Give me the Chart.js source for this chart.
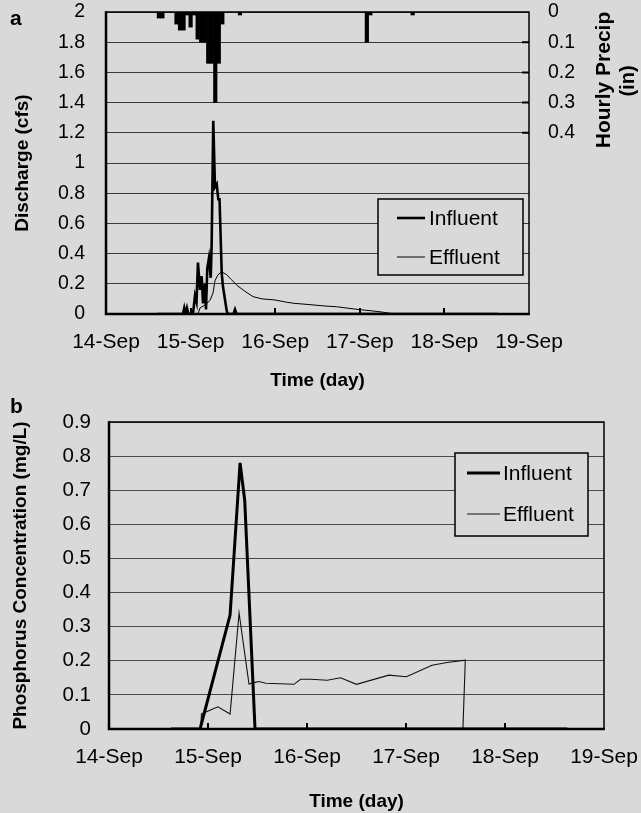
<!DOCTYPE html>
<html>
<head>
<meta charset="utf-8">
<title>Discharge and phosphorus, 14-19 Sep</title>
<script src="https://cdn.jsdelivr.net/npm/chart.js@4/dist/chart.umd.min.js"></script>
<style>
  html, body { margin: 0; padding: 0; background: #d9d9d9; }
  #wrap { position: relative; width: 641px; height: 813px; overflow: hidden; background: #d9d9d9; }
  canvas { position: absolute; left: 0; }
  #chartA { top: 0; }
  #chartB { top: 380px; }
</style>
</head>
<body>
<div id="wrap">
  <canvas id="chartA" width="641" height="410"></canvas>
  <canvas id="chartB" width="641" height="440"></canvas>
</div>
<script>
// ---- data (time in days after 14-Sep 00:00) ----
const dayLabels = ['14-Sep', '15-Sep', '16-Sep', '17-Sep', '18-Sep', '19-Sep'];

// panel a: discharge (cfs)
const inflowDays = [0.603, 0.910, 0.925, 0.940, 0.957, 0.975, 1.028, 1.052, 1.070, 1.087, 1.111, 1.131, 1.147, 1.170, 1.182, 1.197, 1.217, 1.238, 1.249, 1.268, 1.288, 1.309, 1.327, 1.342, 1.368, 1.383, 1.427, 1.442, 1.507, 1.525, 1.543, 4.634];
const inflowCfs  = [0,     0,     0.04,  0,     0.04,  0,     0,     0.12,  0.08,  0.34,  0.16,  0.25,  0.07,  0.20,  0.03,  0.30,  0.37,  0.24,  0.47,  1.28,  0.84,  0.86,  0.76,  0.76,  0.27,  0.18,  0.02,  0,     0,     0.03,  0,     0];

const outflowDays = [0.603, 1.087, 1.111, 1.170, 1.229, 1.265, 1.288, 1.324, 1.368, 1.427, 1.478, 1.548, 1.643, 1.738, 1.844, 1.998, 2.136, 2.234, 2.329, 2.589, 2.727, 2.979, 3.121, 3.262, 3.404, 4.634];
const outflowCfs  = [0,     0,     0.04,  0.06,  0.09,  0.14,  0.22,  0.26,  0.28,  0.26,  0.23,  0.19,  0.15,  0.115, 0.10,  0.093, 0.078, 0.07,  0.066, 0.053, 0.048, 0.03,  0.022, 0.013, 0,     0];

// hourly precipitation (in), hour counted from 14-Sep 00:00
const precipHours = [15,   16,   20,   21,   22,   23,   24,   25,   26,   27,   28,   29,   30,   31,   32,   33,   38,   74,   75,   87];
const precipIn    = [0.02, 0.02, 0.04, 0.06, 0.06, 0.01, 0.05, 0.01, 0.09, 0.10, 0.10, 0.17, 0.17, 0.30, 0.17, 0.04, 0.01, 0.10, 0.01, 0.01];

// panel b: phosphorus concentration (mg/L)
const phosInDays = [0.625, 0.920, 1.223, 1.324, 1.371, 1.475, 4.630];
const phosInMgL  = [0,     0,     0.334, 0.78,  0.67,  0,     0];

const phosOutDays = [0.625, 0.927, 0.934, 1.100, 1.223, 1.314, 1.414, 1.465, 1.515, 1.583, 1.868, 1.935, 2.040, 2.205, 2.339, 2.500, 2.826, 3.004, 3.263, 3.414, 3.599, 3.575, 4.630];
const phosOutMgL  = [0,     0,     0.044, 0.065, 0.044, 0.34,  0.132, 0.136, 0.139, 0.134, 0.131, 0.146, 0.146, 0.143, 0.150, 0.131, 0.158, 0.153, 0.187, 0.195, 0.202, 0,     0];

// ---- helpers ----
const pairs = (xs, ys) => xs.map((x, i) => ({ x: x, y: ys[i] }));
const fmt = v => String(Number(v.toFixed(2)));
const BG = '#d9d9d9';
const FAMILY = "'Liberation Sans', Arial, Helvetica, sans-serif";
const CLEAR = 'rgba(0,0,0,0)';

Chart.defaults.font.family = FAMILY;
Chart.defaults.color = '#000';
Chart.defaults.animation = false;

// frame, inner tick marks, boxed legend and free text for each panel
const panelDecor = {
  id: 'panelDecor',
  afterDraw(chart, args, o) {
    const ctx = chart.ctx;
    const a = chart.chartArea;
    const xs = chart.scales.x;
    ctx.save();
    ctx.strokeStyle = '#000';
    ctx.lineCap = 'butt';

    // plot frame
    ctx.lineWidth = 1.5;
    ctx.strokeRect(a.left, a.top, a.right - a.left, a.bottom - a.top);
    ctx.lineWidth = 2.5;
    ctx.beginPath();
    ctx.moveTo(a.left, a.top - 0.75);
    ctx.lineTo(a.left, a.bottom);
    ctx.lineTo(a.right + 0.75, a.bottom);
    ctx.stroke();

    // day ticks pointing into the plot
    ctx.lineWidth = 2;
    ctx.beginPath();
    for (let v = xs.min + 1; v < xs.max; v++) {
      const px = Math.round(xs.getPixelForValue(v));
      ctx.moveTo(px, a.bottom);
      ctx.lineTo(px, a.bottom - 6);
    }
    // right-hand precipitation ticks
    const y2 = chart.scales.y2;
    if (y2) {
      y2.ticks.forEach(t => {
        if (t.value > 0 && t.value <= 0.4001) {
          const py = y2.getPixelForValue(t.value);
          ctx.moveTo(a.right, py);
          ctx.lineTo(a.right - 7, py);
        }
      });
    }
    ctx.stroke();

    // boxed legend
    const L = o.legend;
    if (L) {
      ctx.fillStyle = BG;
      ctx.fillRect(L.x, L.y, L.w, L.h);
      ctx.lineWidth = 1.5;
      ctx.strokeStyle = '#000';
      ctx.strokeRect(L.x, L.y, L.w, L.h);
      const lines = chart.data.datasets.filter(d => d.type === 'line');
      ctx.font = L.font;
      ctx.fillStyle = '#000';
      ctx.textAlign = 'left';
      ctx.textBaseline = 'middle';
      lines.forEach((d, i) => {
        const ry = L.rows[i];
        ctx.lineWidth = d.borderWidth;
        ctx.strokeStyle = d.borderColor;
        ctx.beginPath();
        ctx.moveTo(L.lineX1, ry);
        ctx.lineTo(L.lineX2, ry);
        ctx.stroke();
        ctx.fillText(d.label, L.textX, ry + 1);
      });
    }

    // free text (panel letter, secondary axis title)
    (o.texts || []).forEach(t => {
      ctx.save();
      ctx.font = t.font;
      ctx.fillStyle = '#000';
      ctx.textAlign = t.align || 'center';
      ctx.textBaseline = t.baseline || 'middle';
      ctx.translate(t.x, t.y);
      if (t.rot) ctx.rotate(t.rot);
      ctx.fillText(t.text, 0, 0);
      ctx.restore();
    });
    ctx.restore();
  }
};

const TITLE_FONT = { size: 19, weight: 'bold' };
const GRID_A = '#3a3a3a';
const GRID_B = '#4a4a4a';

// shared time axis; the invisible tick length sets the label drop below the axis
function timeAxis(height, drop, titlePadBottom) {
  return {
    type: 'linear',
    min: 0,
    max: dayLabels.length - 1,
    offset: false,
    grid: { display: false, drawTicks: true, tickLength: drop },
    border: { display: false },
    ticks: {
      stepSize: 1,
      autoSkip: false,
      maxRotation: 0,
      padding: 0,
      font: { size: 21 },
      callback: v => dayLabels[Math.round(v)]
    },
    title: {
      display: true,
      text: 'Time (day)',
      font: TITLE_FONT,
      padding: { top: 0, bottom: titlePadBottom }
    },
    afterFit: s => { s.height = height; }
  };
}

// ---- panel a ----
new Chart(document.getElementById('chartA'), {
  type: 'bar',
  data: {
    datasets: [
      { type: 'line', label: 'Influent', data: pairs(inflowDays, inflowCfs), yAxisID: 'y',
        borderColor: '#000', borderWidth: 2.6, pointRadius: 0, tension: 0, order: 1 },
      { type: 'line', label: 'Effluent', data: pairs(outflowDays, outflowCfs), yAxisID: 'y',
        borderColor: '#000', borderWidth: 1, pointRadius: 0, tension: 0, order: 2 },
      { type: 'bar', label: 'Hourly Precip', data: pairs(precipHours.map(h => h / 24), precipIn), yAxisID: 'y2',
        backgroundColor: '#000', borderWidth: 0, barPercentage: 1, categoryPercentage: 1, order: 3 }
    ]
  },
  options: {
    responsive: false,
    devicePixelRatio: 1,
    layout: { padding: { top: 12, left: 0, right: 0, bottom: 0 } },
    plugins: {
      legend: { display: false },
      tooltip: { enabled: false },
      panelDecor: {
        legend: { x: 378, y: 199, w: 145, h: 76, rows: [218, 257], lineX1: 397, lineX2: 425, textX: 429,
                  font: "21px " + FAMILY },
        texts: [
          { text: 'a', x: 10, y: 24.5, align: 'left', baseline: 'alphabetic', font: "bold 21px " + FAMILY },
          { text: 'Hourly Precip', x: 604, y: 80, rot: -Math.PI / 2, font: "bold 21px " + FAMILY },
          { text: '(in)', x: 628, y: 81, rot: -Math.PI / 2, font: "bold 20px " + FAMILY }
        ]
      }
    },
    scales: {
      x: timeAxis(96, 15.4, 17.6),
      y: {
        type: 'linear', position: 'left', min: 0, max: 2,
        grid: { color: GRID_A, lineWidth: 1, drawTicks: true, tickLength: 21, tickColor: CLEAR },
        border: { display: false },
        ticks: { stepSize: 0.2, padding: 0, font: { size: 19.5 }, callback: v => fmt(v) },
        title: { display: true, text: 'Discharge (cfs)', font: TITLE_FONT, padding: { top: 11, bottom: 0 } },
        afterFit: s => { s.width = 106; }
      },
      y2: {
        type: 'linear', position: 'right', min: 0, max: 1, reverse: true,
        grid: { display: false, drawTicks: true, tickLength: 19 },
        border: { display: false },
        ticks: { stepSize: 0.1, padding: 0, font: { size: 19.5 },
                 callback: v => (v <= 0.4001 ? fmt(v) : '') },
        afterFit: s => { s.width = 112; }
      }
    }
  },
  plugins: [panelDecor]
});

// ---- panel b ----
new Chart(document.getElementById('chartB'), {
  type: 'line',
  data: {
    datasets: [
      { type: 'line', label: 'Influent', data: pairs(phosInDays, phosInMgL),
        borderColor: '#000', borderWidth: 3, pointRadius: 0, tension: 0 },
      { type: 'line', label: 'Effluent', data: pairs(phosOutDays, phosOutMgL),
        borderColor: '#111', borderWidth: 1.1, pointRadius: 0, tension: 0 }
    ]
  },
  options: {
    responsive: false,
    devicePixelRatio: 1,
    layout: { padding: { top: 42, left: 0, right: 37, bottom: 0 } },
    plugins: {
      legend: { display: false },
      tooltip: { enabled: false },
      panelDecor: {
        legend: { x: 455, y: 73, w: 133, h: 83, rows: [93, 134], lineX1: 467, lineX2: 500, textX: 503,
                  font: "21px " + FAMILY },
        texts: [
          { text: 'b', x: 10, y: 33, align: 'left', baseline: 'alphabetic', font: "bold 21px " + FAMILY }
        ]
      }
    },
    scales: {
      x: timeAxis(91, 15.4, 6.6),
      y: {
        type: 'linear', position: 'left', min: 0, max: 0.9,
        grid: { color: GRID_B, lineWidth: 1, drawTicks: true, tickLength: 18, tickColor: CLEAR },
        border: { display: false },
        ticks: { stepSize: 0.1, padding: 0, font: { size: 20.5 }, callback: v => fmt(v) },
        title: { display: true, text: 'Phosphorus Concentration (mg/L)', font: TITLE_FONT, padding: { top: 9, bottom: 0 } },
        afterFit: s => { s.width = 109; }
      }
    }
  },
  plugins: [panelDecor]
});
</script>
</body>
</html>
